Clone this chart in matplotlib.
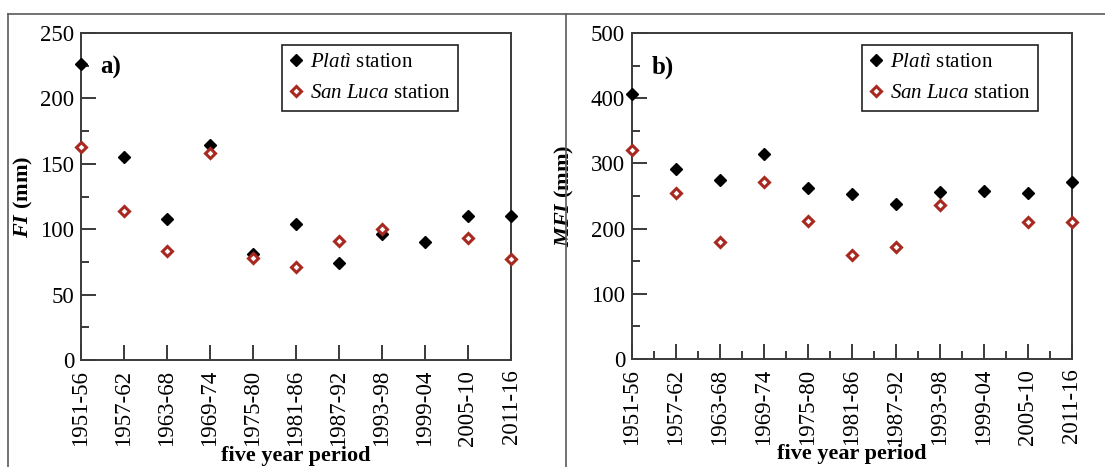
import numpy as np
import matplotlib
matplotlib.use("Agg")
import matplotlib.pyplot as plt
from matplotlib.lines import Line2D
from matplotlib.ticker import MultipleLocator

plt.rcParams["font.family"] = ["Liberation Serif", "DejaVu Serif"]
plt.rcParams["mathtext.fontset"] = "custom"
plt.rcParams["mathtext.rm"] = "Liberation Serif"
plt.rcParams["mathtext.it"] = "Liberation Serif:italic"
plt.rcParams["mathtext.bf"] = "Liberation Serif:bold"
plt.rcParams["mathtext.bfit"] = "Liberation Serif:bold:italic"

# five year periods
periods = ["1951-56", "1957-62", "1963-68", "1969-74", "1975-80", "1981-86",
           "1987-92", "1993-98", "1999-04", "2005-10", "2011-16"]

# FI (mm)
fi_plati = [226, 155, 108, 164, 81, 104, 74, 96, 90, 110, 110]
fi_sanluca = [163, 114, 83, 158, 78, 71, 91, 100, np.nan, 93, 77]

# MFI (mm)
mfi_plati = [406, 291, 274, 314, 263, 253, 237, 256, 257, 254, 271]
mfi_sanluca = [320, 254, 180, 272, 211, 160, 172, 236, np.nan, 210, 210]

spine_col = "#3a3a3a"
red = "#a8291f"

fig = plt.figure(figsize=(11.05, 4.67), dpi=100)

# outer frame lines
frame_col = "#5a5a5a"
fig.add_artist(Line2D([8 / 1105, 1.0], [1 - 14 / 467] * 2, color=frame_col, lw=1.2))
fig.add_artist(Line2D([8 / 1105] * 2, [0, 1 - 14 / 467], color=frame_col, lw=1.2))
fig.add_artist(Line2D([566 / 1105] * 2, [0, 1 - 14 / 467], color=frame_col, lw=1.2))

ax_a = fig.add_axes([81 / 1105, 1 - 360 / 467, 430 / 1105, 327 / 467])
ax_b = fig.add_axes([632 / 1105, 1 - 359 / 467, 440 / 1105, 326 / 467])

x = np.arange(len(periods))


def style_panel(ax, ymax, ystep, ylabel, tag, xminor, ylab_x):
    ax.set_xlim(0, len(periods) - 1)
    ax.set_ylim(0, ymax)
    ax.yaxis.set_major_locator(MultipleLocator(ystep))
    ax.yaxis.set_minor_locator(MultipleLocator(ystep / 2))
    ax.set_xticks(x)
    ax.set_xticklabels(periods, rotation=90)
    if xminor:
        ax.xaxis.set_minor_locator(MultipleLocator(0.5))
    for s in ax.spines.values():
        s.set_color(spine_col)
        s.set_linewidth(1.4)
    ax.tick_params(axis="both", which="major", direction="in", length=11,
                   width=1.4, color=spine_col, labelsize=16.5)
    ax.tick_params(axis="x", which="major", pad=7)
    ax.tick_params(axis="y", which="major", pad=5)
    ax.tick_params(axis="both", which="minor", direction="in", length=5.5,
                   width=1.4, color=spine_col)
    ax.tick_params(axis="y", which="both", right=False)
    ax.tick_params(axis="x", which="both", top=False)
    if not xminor:
        ax.tick_params(axis="x", which="minor", bottom=False)
    ax.set_ylabel(ylabel, fontsize=16, fontweight="bold")
    ax.yaxis.set_label_coords(ylab_x, 0.5)
    ax.set_xlabel("five year period", fontsize=16, fontweight="bold")
    ax.xaxis.set_label_coords(0.5, -0.262)
    ax.text(0.045, 0.93, tag, transform=ax.transAxes, fontsize=18,
            fontweight="bold", va="top", ha="left")


def draw(ax, plati, sanluca, legend_x):
    ax.plot(x, plati, linestyle="none", marker="D", ms=6, mfc="black",
            mec="black", label=r"$\mathit{Platì}$ station", clip_on=False, zorder=3)
    ax.plot(x, sanluca, linestyle="none", marker="D", ms=5, mfc="white",
            mec=red, mew=2.2, label=r"$\mathit{San\ Luca}$ station", clip_on=False,
            zorder=4)
    leg = ax.legend(loc="upper right", bbox_to_anchor=(legend_x, 0.962),
                    fontsize=15, frameon=True, fancybox=False, framealpha=1,
                    edgecolor="#222222", handlelength=0.6, handletextpad=0.4,
                    borderpad=0.35, labelspacing=0.55, borderaxespad=0)
    leg.get_frame().set_linewidth(1.2)


draw(ax_a, fi_plati, fi_sanluca, 0.877)
style_panel(ax_a, 250, 50, r"$\mathbfit{FI}$ (mm)", "a)", False, -0.108)

draw(ax_b, mfi_plati, mfi_sanluca, 0.923)
style_panel(ax_b, 500, 100, r"$\mathbfit{MFI}$ (mm)", "b)", True, -0.128)

fig.savefig("out.png", dpi=100)
